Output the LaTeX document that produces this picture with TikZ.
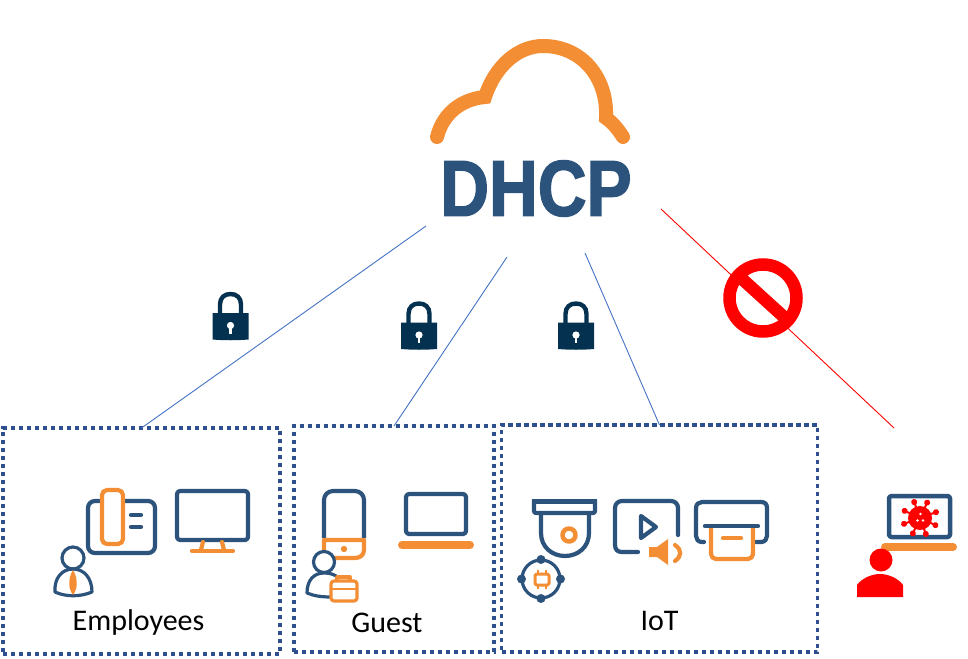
\documentclass[tikz,border=0pt]{standalone}
\usepackage{fontspec}
\setmainfont{Carlito}
\newfontfamily\logofont[BoldFeatures={FakeBold=2}]{Liberation Sans}
\usetikzlibrary{arrows.meta,positioning,calc}
\definecolor{inkBlue}{RGB}{44, 83, 124}
\definecolor{accentOrange}{RGB}{243, 142, 52}
\definecolor{dotBlue}{RGB}{47, 80, 143}
\definecolor{lineBlue}{RGB}{68, 114, 196}
\definecolor{lockNavy}{RGB}{3, 49, 79}
\definecolor{alertRed}{RGB}{255, 0, 0}
\tikzset{
  groupbox/.style={draw=dotBlue, line width=3.6pt, dash pattern=on 4.2pt off 3.8pt, inner sep=0pt, outer sep=0pt},
  grouplabel/.style={font=\fontsize{30pt}{32pt}\selectfont, text=black, inner sep=0pt},
  blueicon/.style={draw=inkBlue, line width=4.2pt, line cap=round, line join=round},
  orangeicon/.style={draw=accentOrange, line width=4.2pt, line cap=round, line join=round},
  linkblue/.style={draw=lineBlue, line width=0.9pt},
  linkred/.style={draw=alertRed, line width=0.9pt},
  lockicon/.pic={
    \draw[lockNavy, line width=4.4pt] (-10.5,-13) -- (-10.5,-22) .. controls (-10.5,-29) and (-6,-32.5) .. (0,-32.5) .. controls (6,-32.5) and (10.5,-29) .. (10.5,-22) -- (10.5,-13);
    \fill[lockNavy] (-18,-13.5) -- (18,-13.5) -- (18,13) .. controls (6,14) and (-6,14) .. (-18,13) -- cycle;
    \fill[white] (0,-1) circle (3.6);
    \fill[white] (-1.3,0) rectangle (1.3,7);
  },
  spike/.pic={
    \draw[alertRed, line width=2pt] (0,0) -- (0,-16);
    \fill[alertRed] (0,-17) circle (3);
  }
}
\begin{document}
\begin{tikzpicture}[x=1pt,y=-1pt]
  \useasboundingbox (0,0) rectangle (968,658);

  % cloud and logo
  \draw[accentOrange, line width=14pt, line cap=round, miter limit=10]
    (437,137) .. controls (443,113) and (462,99) .. (485,97)
    .. controls (495,66) and (518,46) .. (543,46)
    .. controls (582,46) and (608,78) .. (606,118)
    .. controls (612,122) and (618,129) .. (623,137);
  \node[inner sep=0pt, text=inkBlue] (dhcpLogo) at (536,188.5) {\scalebox{.855}[1]{\logofont\fontsize{79pt}{79pt}\selectfont\bfseries DHCP}};

  % groups
  \node[groupbox, minimum width=277pt, minimum height=226pt] (employeesBox) at (141.5,541) {};
  \node[groupbox, minimum width=200pt, minimum height=226pt] (guestBox) at (394,539) {};
  \node[groupbox, minimum width=316pt, minimum height=227pt] (iotBox) at (659.5,538.5) {};
  \node[grouplabel] (employeesLabel) at (138.5,622.5) {Employees};
  \node[grouplabel] (guestLabel) at (387,623) {Guest};
  \node[grouplabel] (iotLabel) at (659.5,621) {IoT};

  % links
  \coordinate (dhcpLeft) at (426,226);
  \coordinate (dhcpMid) at (507,257);
  \coordinate (dhcpRight) at (585,253);
  \coordinate (dhcpBad) at (661,209);
  \coordinate (badEnd) at (894,428);
  \draw[linkblue] (dhcpLeft) -- (employeesBox.north);
  \draw[linkblue] (dhcpMid) -- (guestBox.north);
  \draw[linkblue] (dhcpRight) -- (iotBox.north);
  \draw[linkred] (dhcpBad) -- (badEnd);

  % locks
  \pic at (230.5,326.5) {lockicon};
  \pic at (419,336) {lockicon};
  \pic at (576,336) {lockicon};

  % no entry sign
  \fill[white] (763,298) circle (36);
  \draw[alertRed, line width=12.5pt] (763,298) circle (33.5);
  \draw[alertRed, line width=12.5pt] (741,278) -- (785,318);

  % employees: phone
  \draw[blueicon] (102,501) -- (95,501) .. controls (91,501) and (88,504) .. (88,508) -- (88,546) .. controls (88,550) and (91,553) .. (95,553) -- (148,553) .. controls (152,553) and (155,550) .. (155,546) -- (155,508) .. controls (155,504) and (152,501) .. (148,501) -- (123,501);
  \draw[orangeicon, rounded corners=5pt] (102,490) rectangle (123,544);
  \draw[blueicon] (131,515) -- (141,515);
  \draw[blueicon] (131,527) -- (141,527);
  % employees: monitor
  \draw[blueicon, rounded corners=3pt] (177,491) rectangle (248,540);
  \draw[orangeicon] (203,542) -- (201,550);
  \draw[orangeicon] (222,542) -- (224,550);
  \draw[orangeicon] (192,551) -- (233,551);
  % employees: person
  \draw[blueicon, line width=3.2pt] (73,558) circle (11);
  \draw[blueicon, line width=3.2pt] (55,592) .. controls (54,578) and (62,569) .. (73,569) .. controls (84,569) and (92,578) .. (92,592) .. controls (80,597) and (66,597) .. (55,592) -- cycle;
  \fill[accentOrange] (73,570) .. controls (67,580) and (69,590) .. (73,595) .. controls (77,590) and (79,580) .. (73,570);

  % guest: tablet
  \draw[blueicon, line cap=butt] (324,538) -- (324,500) .. controls (324,495) and (328,491) .. (333,491) -- (355,491) .. controls (360,491) and (364,495) .. (364,500) -- (364,538);
  \draw[orangeicon, line cap=butt] (324,540) -- (324,550) .. controls (324,555) and (328,558) .. (333,558) -- (355,558) .. controls (360,558) and (364,555) .. (364,550) -- (364,540) -- cycle;
  \fill[accentOrange] (344,549) circle (3.2);
  % guest: laptop
  \draw[blueicon, rounded corners=3pt] (406,494) rectangle (466,534);
  \draw[orangeicon, line width=8pt] (402,545) -- (470,545);
  % guest: person
  \fill[white] (324,562) circle (11);
  \draw[blueicon, line width=3.2pt] (324,562) circle (10.5);
  \fill[white] (307,593) .. controls (307,580) and (314,573) .. (324,573) .. controls (334,573) and (340,576) .. (345,582) -- (340,600) -- (320,598) -- cycle;
  \draw[blueicon, line width=3.2pt] (331,597) .. controls (322,597) and (314,596) .. (307,593) .. controls (307,580) and (314,573) .. (324,573) .. controls (329,573) and (333,574) .. (336,576);
  \draw[orangeicon, fill=white, line width=3.2pt, rounded corners=3pt] (331,581) rectangle (357,601);
  \draw[orangeicon, line width=3.2pt] (337,580) -- (337,577) -- (350,577) -- (350,580);
  \draw[orangeicon, line width=1.5pt] (332,589) -- (356,589);

  % iot: camera
  \draw[blueicon, line cap=butt, rounded corners=2pt] (534,500) -- (534,513) -- (595,513) -- (595,500);
  \draw[blueicon, line cap=butt, line width=5pt] (532,501) -- (597,501);
  \draw[blueicon] (541,514) -- (541,533) .. controls (541,547) and (552,556) .. (565,556) .. controls (578,556) and (589,547) .. (589,533) -- (589,514);
  \draw[orangeicon, line width=4.5pt] (569,535) circle (6.5);
  % iot: chip in ring
  \draw[blueicon, line width=3.2pt] (541,579) circle (19);
  \foreach \dotx/\doty in {541/559.5, 541/598.5, 521.5/579, 560.5/579}
    \fill[inkBlue] (\dotx,\doty) circle (4.5);
  \draw[orangeicon, line width=3pt, rounded corners=1.5pt] (535,574) rectangle (549,585);
  \foreach \pinx in {538,546} {
    \draw[accentOrange, line width=2pt] (\pinx,570) -- (\pinx,574);
    \draw[accentOrange, line width=2pt] (\pinx,585) -- (\pinx,589);
  }
  % iot: video
  \draw[blueicon] (678,535) -- (678,508) .. controls (678,504) and (675,501) .. (671,501) -- (622,501) .. controls (618,501) and (615,504) .. (615,508) -- (615,545) .. controls (615,550) and (618,552) .. (622,552) -- (638,552);
  \draw[blueicon] (641,516) -- (656,527) -- (641,538) -- cycle;
  \fill[accentOrange] (649,547) -- (657,547) -- (668,539) -- (668,565) -- (657,557) -- (649,557) -- cycle;
  \draw[orangeicon] (675,545) .. controls (682,550) and (682,556) .. (675,561);
  % iot: printer
  \draw[blueicon] (704,542) -- (702,542) .. controls (698,542) and (696,539) .. (696,536) -- (696,508) .. controls (696,504) and (699,502) .. (702,502) -- (761,502) .. controls (765,502) and (767,504) .. (767,508) -- (767,536) .. controls (767,539) and (765,542) .. (761,542) -- (756,542);
  \draw[orangeicon, line cap=butt, rounded corners=5pt] (711,528) -- (711,559) -- (753,559) -- (753,528);
  \draw[blueicon] (705,526) -- (758,526);
  \draw[orangeicon] (723,538) -- (741,538);

  % malicious client
  \draw[blueicon, line width=4.5pt, rounded corners=2.5pt] (889,496) rectangle (950,537);
  \fill[alertRed] (920,518) circle (12);
  \foreach \spikeangle in {0,45,...,315}
    \pic[rotate=\spikeangle+20] at (920,518) {spike};
  \fill[white] (920.5,514) circle (1.4);
  \fill[white] (917.5,520.5) circle (1.4);
  \fill[white] (923,520.5) circle (1.4);
  \draw[orangeicon, line width=8pt] (885,547) -- (953,547);
  \fill[alertRed] (881,560) circle (11.5);
  \fill[alertRed] (857,597) -- (857,585) .. controls (862,578) and (872,574) .. (880,574) .. controls (888,574) and (898,578) .. (903,585) -- (903,597) -- cycle;
\end{tikzpicture}
\end{document}
